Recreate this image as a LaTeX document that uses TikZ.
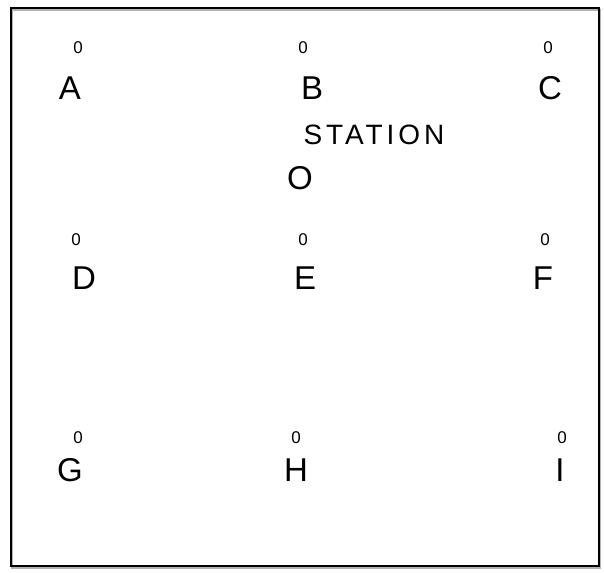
\documentclass[tikz,border=0pt]{standalone}
\usepackage{fontspec}
\setmainfont{Liberation Sans}
\begin{document}
\begin{tikzpicture}[x=1pt,y=-1pt,
  lbl/.style={inner sep=0pt,font=\fontsize{33}{36}\selectfont},
  zero/.style={inner sep=0pt,font=\fontsize{17}{18}\selectfont},
  stn/.style={inner sep=0pt,font=\fontsize{28}{32}\selectfont\addfontfeature{LetterSpace=14}}]
\useasboundingbox (0,0) rectangle (604,572);
\fill[white] (0,0) rectangle (604,572);
\draw[gray!60,line width=2pt] (12,10) rectangle (600,568);
\node[draw,line width=1.6pt,minimum width=588pt,minimum height=558pt,inner sep=0pt,anchor=north west] (frame) at (10,7) {};
% top row
\node[lbl] (A) at (70,88) {A};
\node[zero] (a0) at (78,48) {0};
\node[lbl] (B) at (312,88) {B};
\node[zero] (b0) at (303,48) {0};
\node[lbl] (C) at (550,88) {C};
\node[zero] (c0) at (548,48) {0};
\node[stn] (station) at (374,135) {STATION};
\node[lbl] (O) at (300,178) {O};
% middle row
\node[lbl] (D) at (84,278) {D};
\node[zero] (d0) at (76,240) {0};
\node[lbl] (E) at (305,278) {E};
\node[zero] (e0) at (303,240) {0};
\node[lbl] (F) at (543,278) {F};
\node[zero] (f0) at (545,240) {0};
% bottom row
\node[lbl] (G) at (70,470) {G};
\node[zero] (g0) at (78,438) {0};
\node[lbl] (H) at (296,470) {H};
\node[zero] (h0) at (296,438) {0};
\node[lbl] (I) at (560,470) {I};
\node[zero] (i0) at (562,438) {0};
\end{tikzpicture}
\end{document}
